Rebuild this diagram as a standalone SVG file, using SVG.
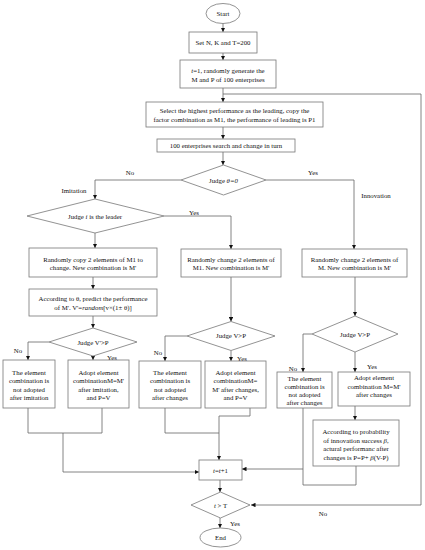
<svg xmlns="http://www.w3.org/2000/svg" width="425" height="550" viewBox="0 0 425 550">
<defs>
<marker id="ah" viewBox="0 0 10 10" refX="10" refY="5" markerWidth="4.5" markerHeight="4.5" markerUnits="userSpaceOnUse" orient="auto">
<path d="M0,0 L10,5 L0,10 z" fill="#111"/>
</marker>
<style>
.n{fill:#fff;stroke:#777;stroke-width:0.8}
.c{fill:none;stroke:#666;stroke-width:0.8}
.a{marker-end:url(#ah)}
text{font-family:"Liberation Serif","Times New Roman",serif;font-size:6.8px;fill:#111;text-anchor:middle;dominant-baseline:central}
.i{font-style:italic}
</style>
</defs>
<rect width="425" height="550" fill="#fff"/>
<g id="connectors">
<path class="c a" d="M223,23 V32"/>
<path class="c a" d="M223,53 V60"/>
<path class="c a" d="M223,88 V102"/>
<path class="c" d="M223,94 H421"/>
<path class="c a" d="M421,94 V505 H251"/>
<path class="c a" d="M223,127 V139"/>
<path class="c a" d="M223,152 V165"/>
<path class="c a" d="M181,180 H95 V199"/>
<path class="c a" d="M266,180 H354 V249"/>
<path class="c a" d="M164,216 H231 V249"/>
<path class="c a" d="M95,233 V248"/>
<path class="c a" d="M93,277 V289"/>
<path class="c a" d="M93,316 V328"/>
<path class="c a" d="M49,342 H28 V360"/>
<path class="c a" d="M93,356 V360"/>
<path class="c a" d="M231,277 V321.5"/>
<path class="c a" d="M187,336 H165 V361"/>
<path class="c a" d="M231,350.5 V361"/>
<path class="c a" d="M355,277 V316"/>
<path class="c a" d="M312,334 H303 V372"/>
<path class="c a" d="M355,352 V372"/>
<path class="c a" d="M355,406 V420"/>
<path class="c" d="M28,408 V433 H102 V408"/>
<path class="c a" d="M63,433 V472 H199"/>
<path class="c" d="M165,408 V433 H219"/>
<path class="c a" d="M250,408 V416 H219 V460"/>
<path class="c" d="M303,408 V485 H356 V466"/>
<path class="c a" d="M303,469 H242"/>
<path class="c a" d="M220,480 V492"/>
<path class="c a" d="M220,518 V528"/>
</g>
<g id="labels">
<text x="130" y="172">No</text>
<text x="313" y="172">Yes</text>
<text x="74" y="190">Imitation</text>
<text x="376" y="195">Innovation</text>
<text x="194" y="212">Yes</text>
<text x="18" y="350">No</text>
<text x="112" y="357">Yes</text>
<text x="158" y="352">No</text>
<text x="242" y="358">Yes</text>
<text x="293" y="368">No</text>
<text x="372" y="366">Yes</text>
<text x="235" y="523">Yes</text>
<text x="323" y="513">No</text>
</g>
<g id="start"><ellipse class="n" cx="223" cy="13.5" rx="17" ry="10"/><text x="223" y="13.5">Start</text></g>
<g id="set"><rect class="n" x="189" y="32" width="68" height="21"/><text x="223" y="42.5">Set N, K and T=200</text></g>
<g id="init"><rect class="n" x="180" y="60" width="96" height="28"/><text x="228" y="70"><tspan class="i">t</tspan>=1, randomly generate the</text><text x="228" y="79">M and P of 100 enterprises</text></g>
<g id="select"><rect class="n" x="146" y="102" width="177" height="25"/><text x="234.5" y="110">Select the highest performance as the leading, copy the</text><text x="234.5" y="119">factor combination as M1, the performance of leading is P1</text></g>
<g id="search"><rect class="n" x="157" y="139" width="138" height="13"/><text x="226" y="145.5">100 enterprises search and change in turn</text></g>
<g id="judgeTheta"><path class="n" d="M181,180 L223.5,165 L266,180 L223.5,195 z"/><text x="223.5" y="180">Judge <tspan class="i">θ=0</tspan></text></g>
<g id="judgeLeader"><path class="n" d="M27,216 L95,199 L164,216 L95,233 z"/><text x="95" y="216">Judge <tspan class="i">i</tspan> is the leader</text></g>
<g id="copy"><rect class="n" x="29" y="248" width="128" height="29"/><text x="93" y="259">Randomly copy 2 elements of M1 to</text><text x="93" y="267.5">change. New combination is M'</text></g>
<g id="predict"><rect class="n" x="29" y="289" width="128" height="27"/><text x="93" y="298">According to θ, predict the performance</text><text x="93" y="307">of M'. V'=<tspan class="i">random</tspan>[v×(1± θ)]</text></g>
<g id="changeM1"><rect class="n" x="181" y="249" width="100" height="28"/><text x="231" y="259">Randomly change 2 elements of</text><text x="231" y="267.5">M1. New combination is M'</text></g>
<g id="changeM"><rect class="n" x="302" y="249" width="105" height="28"/><text x="354.5" y="259">Randomly change 2 elements of</text><text x="354.5" y="267.5">M. New combination is M'</text></g>
<g id="judgeV1"><path class="n" d="M49,342 L93,328 L137,342 L93,356 z"/><text x="93" y="342">Judge V'&gt;P</text></g>
<g id="judgeV2"><path class="n" d="M187,336 L231,321.5 L275,336 L231,350.5 z"/><text x="231" y="335.5">Judge V&gt;P</text></g>
<g id="judgeV3"><path class="n" d="M312,334 L355,316 L398,334 L355,352 z"/><text x="355" y="334">Judge V&gt;P</text></g>
<g id="notAdopt1"><rect class="n" x="3" y="360" width="52" height="48"/><text x="29" y="372">The element</text><text x="29" y="380.5">combination is</text><text x="29" y="389">not adopted</text><text x="29" y="397.5">after imitation</text></g>
<g id="adopt1"><rect class="n" x="68" y="360" width="61" height="48"/><text x="98.5" y="372">Adopt element</text><text x="98.5" y="380.5">combinationM=M'</text><text x="98.5" y="389">after imitation,</text><text x="98.5" y="397.5">and P=V</text></g>
<g id="notAdopt2"><rect class="n" x="139" y="361" width="62" height="47"/><text x="170" y="372">The element</text><text x="170" y="380.5">combination is</text><text x="170" y="389">not adopted</text><text x="170" y="397.5">after changes</text></g>
<g id="adopt2"><rect class="n" x="205" y="361" width="61" height="47"/><text x="235.5" y="372">Adopt element</text><text x="235.5" y="380.5">combinationM=</text><text x="235.5" y="389">M'  after changes,</text><text x="235.5" y="397.5">and P=V</text></g>
<g id="notAdopt3"><rect class="n" x="277" y="372" width="55" height="36"/><text x="304.5" y="378">The element</text><text x="304.5" y="386">combination is</text><text x="304.5" y="394">not adopted</text><text x="304.5" y="402">after changes</text></g>
<g id="adopt3"><rect class="n" x="338" y="372" width="72" height="34"/><text x="374" y="377">Adopt element</text><text x="374" y="386">combination M=M'</text><text x="374" y="394.5">after changes</text></g>
<g id="probability"><rect class="n" x="313" y="420" width="86" height="46"/><text x="356" y="431.5">According to probability</text><text x="356" y="440">of innovation success <tspan class="i">β</tspan>,</text><text x="356" y="448.5">actural performanc after</text><text x="356" y="457">changes is P=P+ <tspan class="i">β</tspan>(V-P)</text></g>
<g id="increment"><rect class="n" x="199" y="460" width="43" height="20"/><text x="220.5" y="470"><tspan class="i">t</tspan>=<tspan class="i">t</tspan>+1</text></g>
<g id="judgeT"><path class="n" d="M191,505 L220.5,492 L250,505 L220.5,518 z"/><text x="220.5" y="505"><tspan class="i">t</tspan> &gt; T</text></g>
<g id="end"><ellipse class="n" cx="220.5" cy="537.5" rx="20.5" ry="9.5"/><text x="220.5" y="537.5">End</text></g>
</svg>
